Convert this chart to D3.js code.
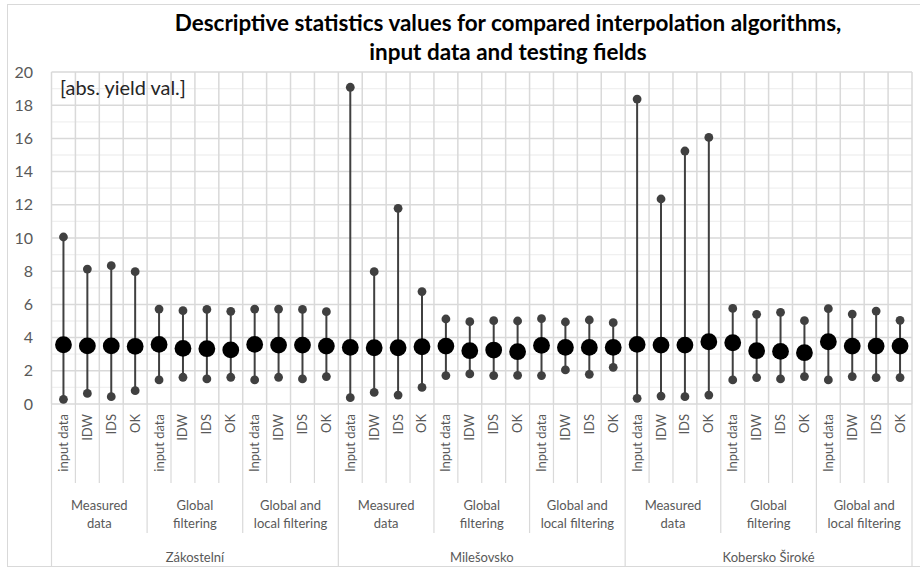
<!DOCTYPE html>
<html><head><meta charset="utf-8">
<script src="https://cdn.jsdelivr.net/npm/d3@7/dist/d3.min.js"></script>
<style>body{margin:0;background:#fff}svg{display:block}text{font-family:Lato,"Open Sans",sans-serif}</style>
</head><body>
<svg id="c" width="920" height="569"></svg>
<script>
const fields = ["Zákostelní", "Milešovsko", "Kobersko Široké"];
const groups = [["Measured", "data"], ["Global", "filtering"], ["Global and", "local filtering"]];
const categoryLabels = [
  "input data","IDW","IDS","OK", "input data","IDW","IDS","OK", "Input data","IDW","IDS","OK",
  "Input data","IDW","IDS","OK", "Input data","IDW","IDS","OK", "Input data","IDW","IDS","OK",
  "Input data","IDW","IDS","OK", "Input data","IDW","IDS","OK", "Input data","IDW","IDS","OK"
];
const maxValues = [
  10.06, 8.13, 8.33, 7.97,  5.72, 5.62, 5.70, 5.58,  5.72, 5.72, 5.70, 5.56,
  19.08, 7.97, 11.79, 6.77,  5.12, 4.96, 5.02, 5.00,  5.14, 4.94, 5.06, 4.90,
  18.37, 12.35, 15.24, 16.06,  5.76, 5.40, 5.52, 5.02,  5.74, 5.42, 5.60, 5.04
];
const meanValues = [
  3.57, 3.50, 3.50, 3.47,  3.59, 3.35, 3.33, 3.26,  3.59, 3.55, 3.55, 3.49,
  3.41, 3.39, 3.39, 3.45,  3.49, 3.21, 3.25, 3.15,  3.53, 3.41, 3.41, 3.41,
  3.59, 3.55, 3.55, 3.75,  3.69, 3.21, 3.17, 3.09,  3.75, 3.49, 3.49, 3.49
];
const minValues = [
  0.28, 0.64, 0.44, 0.80,  1.45, 1.61, 1.51, 1.61,  1.45, 1.61, 1.51, 1.65,
  0.38, 0.70, 0.54, 1.00,  1.71, 1.81, 1.71, 1.73,  1.71, 2.05, 1.79, 2.21,
  0.34, 0.48, 0.44, 0.54,  1.45, 1.59, 1.51, 1.65,  1.45, 1.65, 1.59, 1.59
];
const yTicks = d3.range(0, 21, 2);

const svg = d3.select("#c");
const L = 51.5, R = 912, T = 72, B = 404;
const x = d3.scaleBand().domain(d3.range(categoryLabels.length)).range([L, R]).padding(0);
const y = d3.scaleLinear().domain([0, 20]).range([B, T]);
const bw = x.bandwidth();

// chart frame
svg.append("rect").attr("x", 7.5).attr("y", 4.5).attr("width", 930).attr("height", 562)
  .attr("fill", "#fff").attr("stroke", "#d9d9d9").attr("stroke-width", 1);

// minor gridlines
svg.append("g").selectAll("line").data(d3.range(1, 20, 2)).join("line")
  .attr("x1", L).attr("x2", R).attr("y1", d => y(d)).attr("y2", d => y(d))
  .attr("stroke", "#f0f0f0").attr("stroke-width", 1.3);
// major gridlines
svg.append("g").selectAll("line").data(yTicks).join("line")
  .attr("x1", L).attr("x2", R).attr("y1", d => y(d)).attr("y2", d => y(d))
  .attr("stroke", "#d9d9d9").attr("stroke-width", 1.5);
// vertical gridlines
const bounds = d3.range(categoryLabels.length + 1).map(i => i < categoryLabels.length ? x(i) : R);
svg.append("g").selectAll("line").data(bounds).join("line")
  .attr("x1", d => d).attr("x2", d => d).attr("y1", T).attr("y2", B)
  .attr("stroke", "#d9d9d9").attr("stroke-width", 1.5);

// x axis multi-level separators
svg.append("g").selectAll("line").data(bounds.map((d, i) => ({x: d, i}))).join("line")
  .attr("x1", d => d.x).attr("x2", d => d.x).attr("y1", B)
  .attr("y2", d => d.i % 12 === 0 ? 567 : (d.i % 4 === 0 ? 533 : 483))
  .attr("stroke", "#d9d9d9").attr("stroke-width", 1.2);

// y axis
const yAxis = d3.axisLeft(y).tickValues(yTicks).tickSize(0).tickPadding(0);
const ya = svg.append("g").attr("transform", "translate(33,0)").call(yAxis);
ya.select(".domain").remove();
ya.selectAll("text").attr("font-family", "Lato, sans-serif").attr("font-size", 16).attr("fill", "#595959");

// category labels
svg.append("g").selectAll("text").data(categoryLabels).join("text")
  .attr("transform", (d, i) => `translate(${x(i) + bw / 2 + 4.5},414) rotate(-90)`)
  .attr("text-anchor", "end").attr("font-size", 13).attr("fill", "#595959").text(d => d);

// group labels
const groupData = d3.range(9).map(i => ({i, lines: groups[i % 3]}));
const gl = svg.append("g").selectAll("text").data(groupData).join("text")
  .attr("text-anchor", "middle").attr("font-size", 13).attr("fill", "#595959")
  .attr("x", d => (x(d.i * 4) + (d.i * 4 + 4 < 36 ? x(d.i * 4 + 4) : R)) / 2);
gl.selectAll("tspan").data(d => d.lines).join("tspan")
  .attr("x", function () { return d3.select(this.parentNode).attr("x"); })
  .attr("y", (d, j) => 510 + j * 18).text(d => d);

// field labels
svg.append("g").selectAll("text").data(fields).join("text")
  .attr("x", (d, i) => (x(i * 12) + (i * 12 + 12 < 36 ? x(i * 12 + 12) : R)) / 2)
  .attr("y", 562).attr("text-anchor", "middle").attr("font-size", 13).attr("fill", "#595959").text(d => d);

// stems
const idx = d3.range(categoryLabels.length);
svg.append("g").selectAll("line").data(idx).join("line")
  .attr("x1", i => x(i) + bw / 2).attr("x2", i => x(i) + bw / 2)
  .attr("y1", i => y(minValues[i])).attr("y2", i => y(maxValues[i]))
  .attr("stroke", "#404040").attr("stroke-width", 2);
svg.append("g").selectAll("circle").data(idx).join("circle")
  .attr("cx", i => x(i) + bw / 2).attr("cy", i => y(maxValues[i])).attr("r", 4.4).attr("fill", "#404040");
svg.append("g").selectAll("circle").data(idx).join("circle")
  .attr("cx", i => x(i) + bw / 2).attr("cy", i => y(minValues[i])).attr("r", 4.4).attr("fill", "#404040");
svg.append("g").selectAll("circle").data(idx).join("circle")
  .attr("cx", i => x(i) + bw / 2).attr("cy", i => y(meanValues[i])).attr("r", 8.4).attr("fill", "#000");

// unit label
function fit(sel, w) {
  const cur = sel.node().getComputedTextLength();
  const fs = parseFloat(sel.attr("font-size"));
  sel.attr("font-size", fs * w / cur);
}
const unit = svg.append("text").attr("x", 60).attr("y", 95).attr("font-size", 17).attr("fill", "#262626")
  .text("[abs. yield val.]");
fit(unit, 126);

// title
const t1 = svg.append("text").attr("x", 508).attr("y", 31).attr("text-anchor", "middle")
  .attr("font-weight", "bold").attr("font-size", 19).attr("fill", "#000")
  .text("Descriptive statistics values for compared interpolation algorithms,");
fit(t1, 667);
const t2 = svg.append("text").attr("x", 508).attr("y", 60).attr("text-anchor", "middle")
  .attr("font-weight", "bold").attr("font-size", t1.attr("font-size")).attr("fill", "#000")
  .text("input data and testing fields");
</script>
</body></html>
